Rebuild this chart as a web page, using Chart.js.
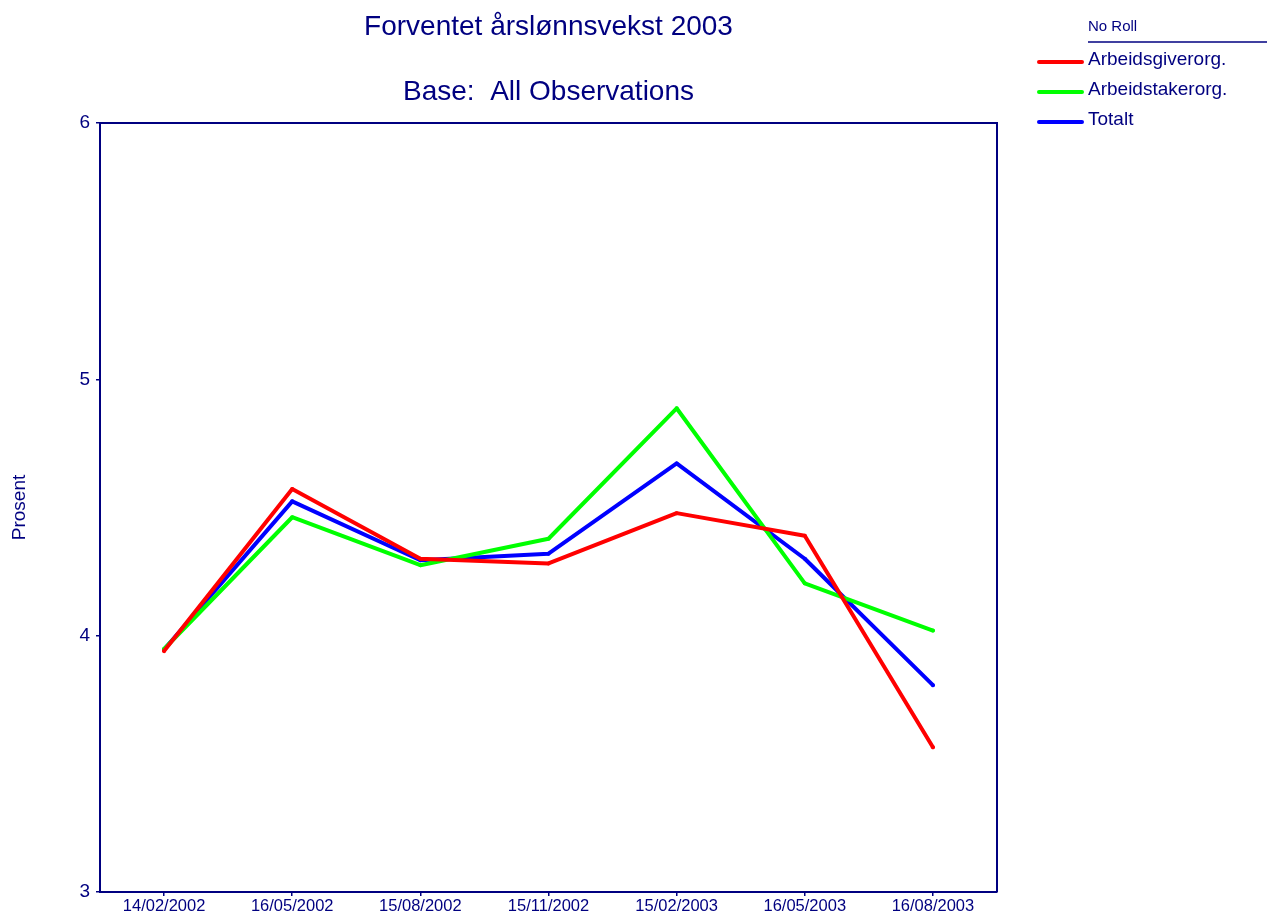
<!DOCTYPE html>
<html>
<head>
<meta charset="utf-8">
<script src="https://cdn.jsdelivr.net/npm/chart.js@4/dist/chart.umd.min.js"></script>
<style>
  html, body { margin: 0; padding: 0; background: #ffffff; }
  #wrap { position: relative; width: 1267px; height: 915px; }
</style>
</head>
<body>
<div id="wrap"><canvas id="c" width="1267" height="915"></canvas></div>
<script>
const categories = ["14/02/2002", "16/05/2002", "15/08/2002", "15/11/2002", "15/02/2003", "16/05/2003", "16/08/2003"];
const arbeidsgiverorg = [3.94, 4.572, 4.30, 4.282, 4.478, 4.39, 3.565];
const arbeidstakerorg = [3.948, 4.462, 4.275, 4.378, 4.887, 4.204, 4.02];
const totalt = [3.946, 4.524, 4.294, 4.32, 4.672, 4.30, 3.807];
const seriesNames = ["Arbeidsgiverorg.", "Arbeidstakerorg.", "Totalt"];
const titleLines = ["Forventet årslønnsvekst 2003", "Base:  All Observations"];
const legendHeader = "No Roll";
const yTitle = "Prosent";
const yTicks = [3, 4, 5, 6];

const NAVY = "#000080";
const FONT = "'Liberation Sans', Arial, sans-serif";

const decorPlugin = {
  id: "decor",
  afterDraw(chart) {
    const ctx = chart.ctx;
    const a = chart.chartArea;
    ctx.save();
    // frame top and right
    ctx.strokeStyle = NAVY;
    ctx.lineWidth = 2;
    ctx.beginPath();
    ctx.moveTo(a.left, a.top);
    ctx.lineTo(a.right, a.top);
    ctx.lineTo(a.right, a.bottom);
    ctx.stroke();
    // titles
    ctx.fillStyle = NAVY;
    ctx.textAlign = "center";
    ctx.textBaseline = "middle";
    ctx.font = "28px " + FONT;
    const cx = (a.left + a.right) / 2;
    ctx.fillText(titleLines[0], cx, 27);
    ctx.fillText(titleLines[1], cx, 92);
    // legend
    ctx.textAlign = "left";
    ctx.font = "15px " + FONT;
    ctx.fillText(legendHeader, 1088, 27);
    ctx.lineWidth = 1.5;
    ctx.beginPath();
    ctx.moveTo(1088, 42);
    ctx.lineTo(1267, 42);
    ctx.stroke();
    ctx.font = "19px " + FONT;
    const rows = [62, 92, 122];
    chart.data.datasets.forEach((ds, i) => {
      ctx.strokeStyle = ds.borderColor;
      ctx.lineWidth = 4;
      ctx.lineCap = "round";
      ctx.beginPath();
      ctx.moveTo(1039, rows[i]);
      ctx.lineTo(1082, rows[i]);
      ctx.stroke();
      ctx.fillStyle = NAVY;
      ctx.fillText(ds.label, 1088, rows[i] - 2);
    });
    ctx.restore();
  }
};

new Chart(document.getElementById("c"), {
  type: "line",
  data: {
    labels: categories,
    datasets: [
      { label: seriesNames[0], data: arbeidsgiverorg, borderColor: "#ff0000", backgroundColor: "#ff0000" },
      { label: seriesNames[1], data: arbeidstakerorg, borderColor: "#00ff00", backgroundColor: "#00ff00" },
      { label: seriesNames[2], data: totalt, borderColor: "#0000ff", backgroundColor: "#0000ff" }
    ].map(d => Object.assign(d, {
      borderWidth: 4,
      pointRadius: 2,
      pointBorderWidth: 0,
      pointHoverRadius: 2,
      tension: 0,
      borderCapStyle: "round",
      borderJoinStyle: "round",
      fill: false
    }))
  },
  options: {
    responsive: false,
    animation: false,
    events: [],
    layout: { padding: { top: 123, right: 270, bottom: 0, left: 0 } },
    plugins: {
      legend: { display: false },
      title: { display: false },
      tooltip: { enabled: false }
    },
    scales: {
      x: {
        type: "category",
        offset: true,
        afterFit(scale) { scale.height = 23; },
        grid: { drawOnChartArea: false, drawTicks: true, tickLength: 4, color: NAVY, lineWidth: 1.5, offset: false },
        border: { display: true, color: NAVY, width: 2 },
        ticks: { color: NAVY, font: { family: FONT, size: 16.5 }, padding: 1, maxRotation: 0, autoSkip: false }
      },
      y: {
        min: 3,
        max: 6,
        afterFit(scale) { scale.width = 100; },
        afterBuildTicks(scale) { scale.ticks = yTicks.map(v => ({ value: v })); },
        grid: { drawOnChartArea: false, drawTicks: true, tickLength: 4, color: NAVY, lineWidth: 1.5 },
        border: { display: true, color: NAVY, width: 2 },
        ticks: { color: NAVY, font: { family: FONT, size: 19 }, padding: 6 },
        title: { display: true, text: yTitle, color: NAVY, font: { family: FONT, size: 19 }, padding: { top: 8, bottom: 0 } }
      }
    }
  },
  plugins: [decorPlugin]
});
</script>
</body>
</html>
